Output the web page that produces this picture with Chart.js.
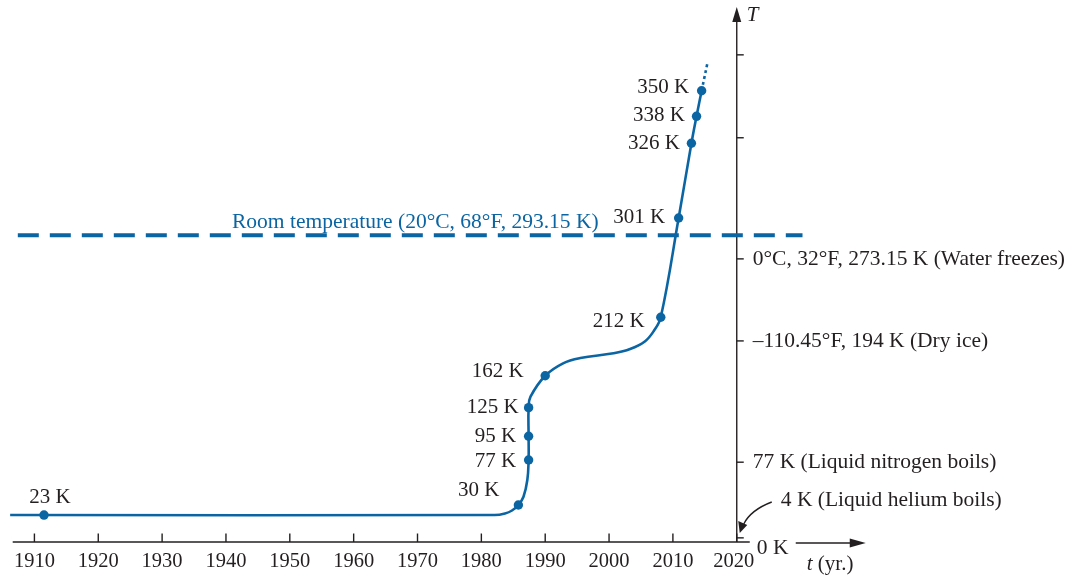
<!DOCTYPE html>
<html>
<head>
<meta charset="utf-8">
<script src="https://cdn.jsdelivr.net/npm/chart.js@4.4.1/dist/chart.umd.min.js"></script>
<style>
  html, body { margin: 0; padding: 0; background: #fff; }
  canvas { display: block; }
</style>
</head>
<body>
<canvas id="tempChart" width="1074" height="576"></canvas>
<script>
// Marked points: year, height on the T axis (as drawn), label
var pointYears = [1911.5, 1985.8, 1987.4, 1987.4, 1987.4, 1990.0, 2008.1, 2010.9, 2012.9, 2013.7, 2014.5];
var pointTemps = [26, 35.7, 79.1, 102, 129.6, 160.4, 216.8, 312.6, 384.7, 410.7, 435.4];
var pointLabels = ['23 K', '30 K', '77 K', '95 K', '125 K', '162 K', '212 K', '301 K', '326 K', '338 K', '350 K'];

// Trace of the curve through the marked points
var curveYears = [1906.2, 1982.1, 1983.7, 1984.8, 1985.8, 1986.6, 1987.2, 1987.4, 1987.4, 1987.4, 1987.7, 1990.0,
  1992.8, 1995.5, 2000.7, 2003.3, 2005.6, 2007.0, 2008.1, 2010.9, 2012.9, 2013.7, 2014.5];
var curveTemps = [26, 26, 27.5, 30.4, 35.7, 43.7, 59.8, 79.1, 102, 129.6, 140.2, 160.4,
  172.4, 177.5, 182.1, 186.2, 193.5, 203.5, 216.8, 312.6, 384.7, 410.7, 435.4];

// dotted continuation past the last point
var trendYears = [2014.5, 2015.4];
var trendTemps = [435.4, 461.8];

// room temperature line
var roomYears = [1907.4, 2030.3];
var roomTemps = [296, 296];
var roomLabel = 'Room temperature (20°C, 68°F, 293.15 K)';

// axis ticks
var yearTicks = [1910, 1920, 1930, 1940, 1950, 1960, 1970, 1980, 1990, 2000, 2010, 2020];
var tempTicks = [4, 77, 194, 273.15, 390, 470];
var tempTickLabels = ['', '77 K (Liquid nitrogen boils)', '–110.45°F, 194 K (Dry ice)', '0°C, 32°F, 273.15 K (Water freezes)', '', ''];
var heliumLabel = '4 K (Liquid helium boils)';

// label placement next to each point: [dx, dy, align]
var labelShift = [[6, -18, 'center'], [-19, -15, 'right'], [-12.5, 1, 'right'], [-12.5, 0, 'right'], [-10, 0, 'right'],
  [-21.5, -4, 'right'], [-16, 4, 'right'], [-13.5, -1, 'right'], [-11.5, 0, 'right'], [-11.5, -1, 'right'], [-12.5, -3, 'right']];

var ink = '#231f20';
var blue = '#0b65a3';
var serif = '"Liberation Serif", "Times New Roman", serif';

function toXY(xs, ys) {
  var out = [];
  for (var i = 0; i < xs.length; i++) out.push({ x: xs[i], y: ys[i] });
  return out;
}

// axes, ticks and annotations
var axisPlugin = {
  id: 'axisPlugin',
  beforeDatasetsDraw: function (chart) {
    var ctx = chart.ctx, xs = chart.scales.x, ys = chart.scales.y;
    var ax = xs.getPixelForValue(2020);
    var ay = ys.getPixelForValue(0);
    ctx.save();
    ctx.strokeStyle = ink;
    ctx.fillStyle = ink;
    ctx.lineWidth = 1.4;

    // time axis
    ctx.beginPath();
    ctx.moveTo(xs.getPixelForValue(1906.6), ay);
    ctx.lineTo(ax + 13, ay);
    ctx.stroke();
    ctx.font = '20.5px ' + serif;
    ctx.textAlign = 'center';
    ctx.textBaseline = 'middle';
    yearTicks.forEach(function (yr) {
      var px = xs.getPixelForValue(yr);
      ctx.beginPath();
      ctx.moveTo(px, ay);
      ctx.lineTo(px, ay - 8.5);
      ctx.stroke();
      ctx.fillText(String(yr), yr === 2020 ? px - 3 : px, ay + 20);
    });

    // temperature axis
    ctx.beginPath();
    ctx.moveTo(ax, ay);
    ctx.lineTo(ax, 20);
    ctx.stroke();
    ctx.beginPath();
    ctx.moveTo(ax, 7);
    ctx.lineTo(ax - 4.5, 22);
    ctx.lineTo(ax + 4.5, 22);
    ctx.closePath();
    ctx.fill();
    ctx.textAlign = 'left';
    ctx.font = '21.5px ' + serif;
    tempTicks.forEach(function (t, i) {
      var py = ys.getPixelForValue(t);
      ctx.beginPath();
      ctx.moveTo(ax, py);
      ctx.lineTo(ax + 7, py);
      ctx.stroke();
      if (tempTickLabels[i]) ctx.fillText(tempTickLabels[i], ax + 16, py);
    });
    ctx.font = 'italic 21px ' + serif;
    ctx.fillText('T', ax + 10, 15);

    // helium label with curved pointer
    ctx.font = '21.5px ' + serif;
    ctx.fillText(heliumLabel, ax + 44, ay - 42);
    ctx.lineWidth = 1.4;
    ctx.beginPath();
    ctx.moveTo(ax + 35, ay - 40);
    ctx.quadraticCurveTo(ax + 14, ay - 32, ax + 7, ay - 18);
    ctx.stroke();
    ctx.beginPath();
    ctx.moveTo(ax + 3, ay - 9);
    ctx.lineTo(ax + 1.5, ay - 21);
    ctx.lineTo(ax + 10.5, ay - 17);
    ctx.closePath();
    ctx.fill();

    // 0 K and time arrow
    ctx.fillText('0 K', ax + 20, ay + 6);
    ctx.lineWidth = 1.4;
    ctx.beginPath();
    ctx.moveTo(ax + 59, ay + 1);
    ctx.lineTo(ax + 116, ay + 1);
    ctx.stroke();
    ctx.beginPath();
    ctx.moveTo(ax + 129, ay + 1);
    ctx.lineTo(ax + 113, ay - 3.5);
    ctx.lineTo(ax + 113, ay + 5.5);
    ctx.closePath();
    ctx.fill();
    ctx.font = 'italic 21px ' + serif;
    ctx.fillText('t', ax + 70, ay + 22);
    var tw = ctx.measureText('t').width;
    ctx.font = '21px ' + serif;
    ctx.fillText(' (yr.)', ax + 70 + tw, ay + 22);
    ctx.restore();
  },
  afterDatasetsDraw: function (chart) {
    var ctx = chart.ctx, xs = chart.scales.x, ys = chart.scales.y;
    ctx.save();
    ctx.font = '21px ' + serif;
    ctx.textBaseline = 'middle';
    ctx.fillStyle = ink;
    pointLabels.forEach(function (lab, i) {
      var s = labelShift[i];
      ctx.textAlign = s[2];
      ctx.fillText(lab, xs.getPixelForValue(pointYears[i]) + s[0], ys.getPixelForValue(pointTemps[i]) + s[1]);
    });
    ctx.fillStyle = blue;
    ctx.textAlign = 'left';
    ctx.textBaseline = 'alphabetic';
    ctx.font = '21.5px ' + serif;
    ctx.fillText(roomLabel, xs.getPixelForValue(1940.95), ys.getPixelForValue(roomTemps[0]) - 7.5);
    ctx.restore();
  }
};

var ctx = document.getElementById('tempChart').getContext('2d');

var tempChart = new Chart(ctx, {
  type: 'line',
  data: {
    datasets: [{
      data: toXY(pointYears, pointTemps),
      showLine: false,
      pointRadius: 4.7,
      pointBackgroundColor: blue,
      pointBorderWidth: 0,
      order: 0
    }, {
      data: toXY(curveYears, curveTemps),
      borderColor: blue,
      borderWidth: 2.6,
      pointRadius: 0,
      tension: 0.4,
      fill: false,
      order: 1
    }, {
      data: toXY(trendYears, trendTemps),
      borderColor: blue,
      borderWidth: 2.6,
      borderDash: [3, 3],
      pointRadius: 0,
      order: 2
    }, {
      data: toXY(roomYears, roomTemps),
      borderColor: blue,
      borderWidth: 4,
      borderDash: [21, 11],
      borderCapStyle: 'butt',
      pointRadius: 0,
      order: 3
    }]
  },
  options: {
    responsive: false,
    animation: false,
    layout: { padding: 0, autoPadding: false },
    scales: {
      x: { type: 'linear', display: false, min: 1904.61, max: 2072.82 },
      y: { type: 'linear', display: false, min: -32.8, max: 522.91 }
    },
    plugins: {
      legend: { display: false },
      tooltip: { enabled: false }
    }
  },
  plugins: [axisPlugin]
});
</script>
</body>
</html>
